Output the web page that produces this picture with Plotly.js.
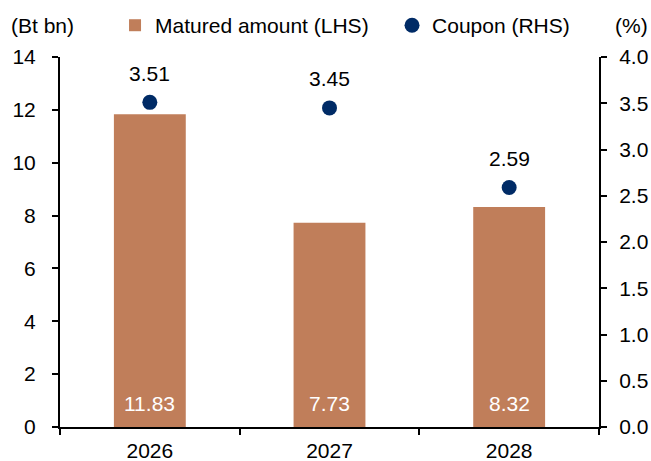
<!DOCTYPE html>
<html><head><meta charset="utf-8">
<script src="https://cdn.plot.ly/plotly-3.0.1.min.js"></script>
<style>html,body{margin:0;padding:0;background:#fff}#chart{width:651px;height:461px}</style>
</head><body><div id="chart"></div>
<script>
const years = ['2026', '2027', '2028'];
const maturedAmount = [11.83, 7.73, 8.32];
const coupon = [3.51, 3.45, 2.59];
const barLabels = ['11.83', '7.73', '8.32'];
const couponLabels = ['3.51', '3.45', '2.59'];

const FONT = 'Liberation Sans, Arial, sans-serif';
const FS = 21;
const barColor = '#C07E5A';
const dotColor = '#002B66';

const traces = [
  {type: 'bar', x: years, y: maturedAmount, name: 'Matured amount (LHS)',
   marker: {color: barColor}, yaxis: 'y', hoverinfo: 'skip', legendwidth: 232},
  {type: 'scatter', mode: 'markers', x: years, y: coupon, name: 'Coupon (RHS)',
   marker: {color: dotColor, size: 15}, yaxis: 'y2', hoverinfo: 'skip'}
];

const annotations = [];
years.forEach((yr, i) => {
  annotations.push({x: i, y: 0, xref: 'x', yref: 'y', text: barLabels[i], showarrow: false,
    yanchor: 'middle', yshift: 24, font: {family: FONT, size: FS, color: '#ffffff'}});
  annotations.push({x: i, y: coupon[i], xref: 'x', yref: 'y2', text: couponLabels[i], showarrow: false,
    yanchor: 'middle', yshift: 29, font: {family: FONT, size: FS, color: '#000000'}});
});
annotations.push({x: 0, y: 1, xref: 'paper', yref: 'paper', xanchor: 'center', yanchor: 'middle',
  xshift: -18, yshift: 32, text: '(Bt bn)', showarrow: false, font: {family: FONT, size: FS, color: '#000'}});
annotations.push({x: 1, y: 1, xref: 'paper', yref: 'paper', xanchor: 'center', yanchor: 'middle',
  xshift: 32, yshift: 32, text: '(%)', showarrow: false, font: {family: FONT, size: FS, color: '#000'}});

const layout = {
  width: 651, height: 461,
  margin: {l: 60, r: 52, t: 57, b: 34, autoexpand: false},
  paper_bgcolor: '#fff', plot_bgcolor: '#fff',
  font: {family: FONT, size: FS, color: '#000'},
  showlegend: true,
  legend: {orientation: 'h', x: 0.1767, xref: 'container', xanchor: 'left', y: 0.989, yref: 'container', yanchor: 'top',
    font: {family: FONT, size: FS, color: '#000'}, itemwidth: 30, traceorder: 'normal'},
  bargap: 0.6,
  xaxis: {type: 'category', showline: true, linecolor: '#000', linewidth: 2, ticks: 'outside', tickson: 'boundaries',
    ticklen: 6, tickwidth: 2, tickcolor: '#000', showgrid: false, zeroline: false, ticklabelstandoff: 4,
    range: [-0.5, 2.5], fixedrange: true},
  yaxis: {range: [0, 14], dtick: 2, tick0: 0, showline: true, linecolor: '#000', linewidth: 2, ticks: 'outside',
    ticklen: 6, tickwidth: 2, tickcolor: '#000', showgrid: false, zeroline: false, ticklabelstandoff: 12},
  yaxis2: {range: [0, 4], dtick: 0.5, tick0: 0, tickformat: '.1f', overlaying: 'y', side: 'right', showline: true,
    linecolor: '#000', linewidth: 2, ticks: 'outside', ticklen: 6, tickwidth: 2, tickcolor: '#000',
    showgrid: false, zeroline: false, ticklabelstandoff: 8},
  annotations: annotations
};

Plotly.newPlot('chart', traces, layout, {displayModeBar: false, staticPlot: true});
</script></body></html>
